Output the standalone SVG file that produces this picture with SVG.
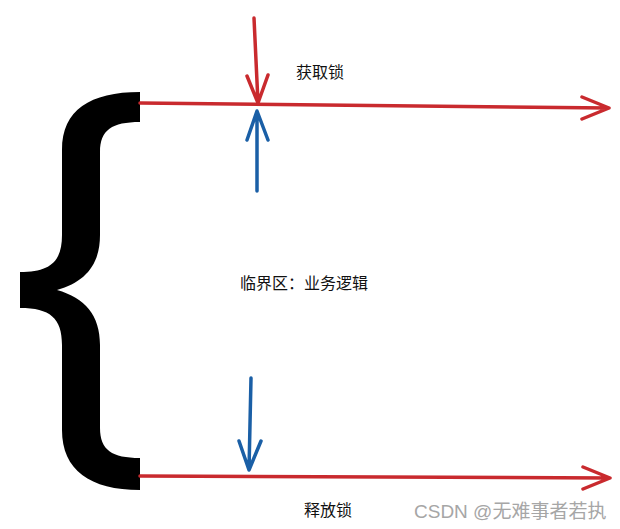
<svg xmlns="http://www.w3.org/2000/svg" width="620" height="529" viewBox="0 0 620 529">
<style>
.red{stroke:#c92a2e;stroke-width:3.5;fill:none;stroke-linecap:round;stroke-linejoin:round}
.blue{stroke:#1a5fa6;stroke-width:3.5;fill:none;stroke-linecap:round;stroke-linejoin:round}
.lbl{font-family:"Noto Sans CJK SC","Noto Sans",sans-serif;font-size:16px;fill:#111}
.wm{font-family:"Liberation Sans","Noto Sans CJK SC",sans-serif;font-size:19px;fill:#a6a6a6}
</style>
<rect width="620" height="529" fill="#fff"/>
<g id="brace">
<path fill="#000" d="M140,92 L140,122 C112,122 100,130 100,152 L100,235 C100,265 85,282 57,290 C85,298 100,315 100,345 L100,428 C100,450 112,458 140,458 L140,490 C90,490 62,470 62,430 L62,345 C62,318 50,308 20,308 L20,272 C50,272 62,262 62,235 L62,150 C62,110 90,92 140,92 Z"/>
</g>
<g id="connectors">
<g id="acquire-line"><path class="red" d="M140,103 L609,108 M582,97 L609,108 L582,119"/></g>
<g id="acquire-down"><path class="red" d="M254,18 L258,103 M247,76 L258,103 L268,75"/></g>
<g id="acquire-up"><path class="blue" d="M257,191 L257,111 M247,140 L257,111 L268,140"/></g>
<g id="release-down"><path class="blue" d="M251,378 L249,470 M239,441 L249,470 L261,441"/></g>
<g id="release-line"><path class="red" d="M140,476 L610,478 M583,467 L610,478 L583,489"/></g>
</g>
<g id="label-acquire"><text class="lbl" x="296" y="78">获取锁</text></g>
<g id="label-critical"><text class="lbl" x="240" y="289">临界区：业务逻辑</text></g>
<g id="label-release"><text class="lbl" x="304" y="516">释放锁</text></g>
<text class="wm" x="414" y="518">CSDN @无难事者若执</text>
</svg>
